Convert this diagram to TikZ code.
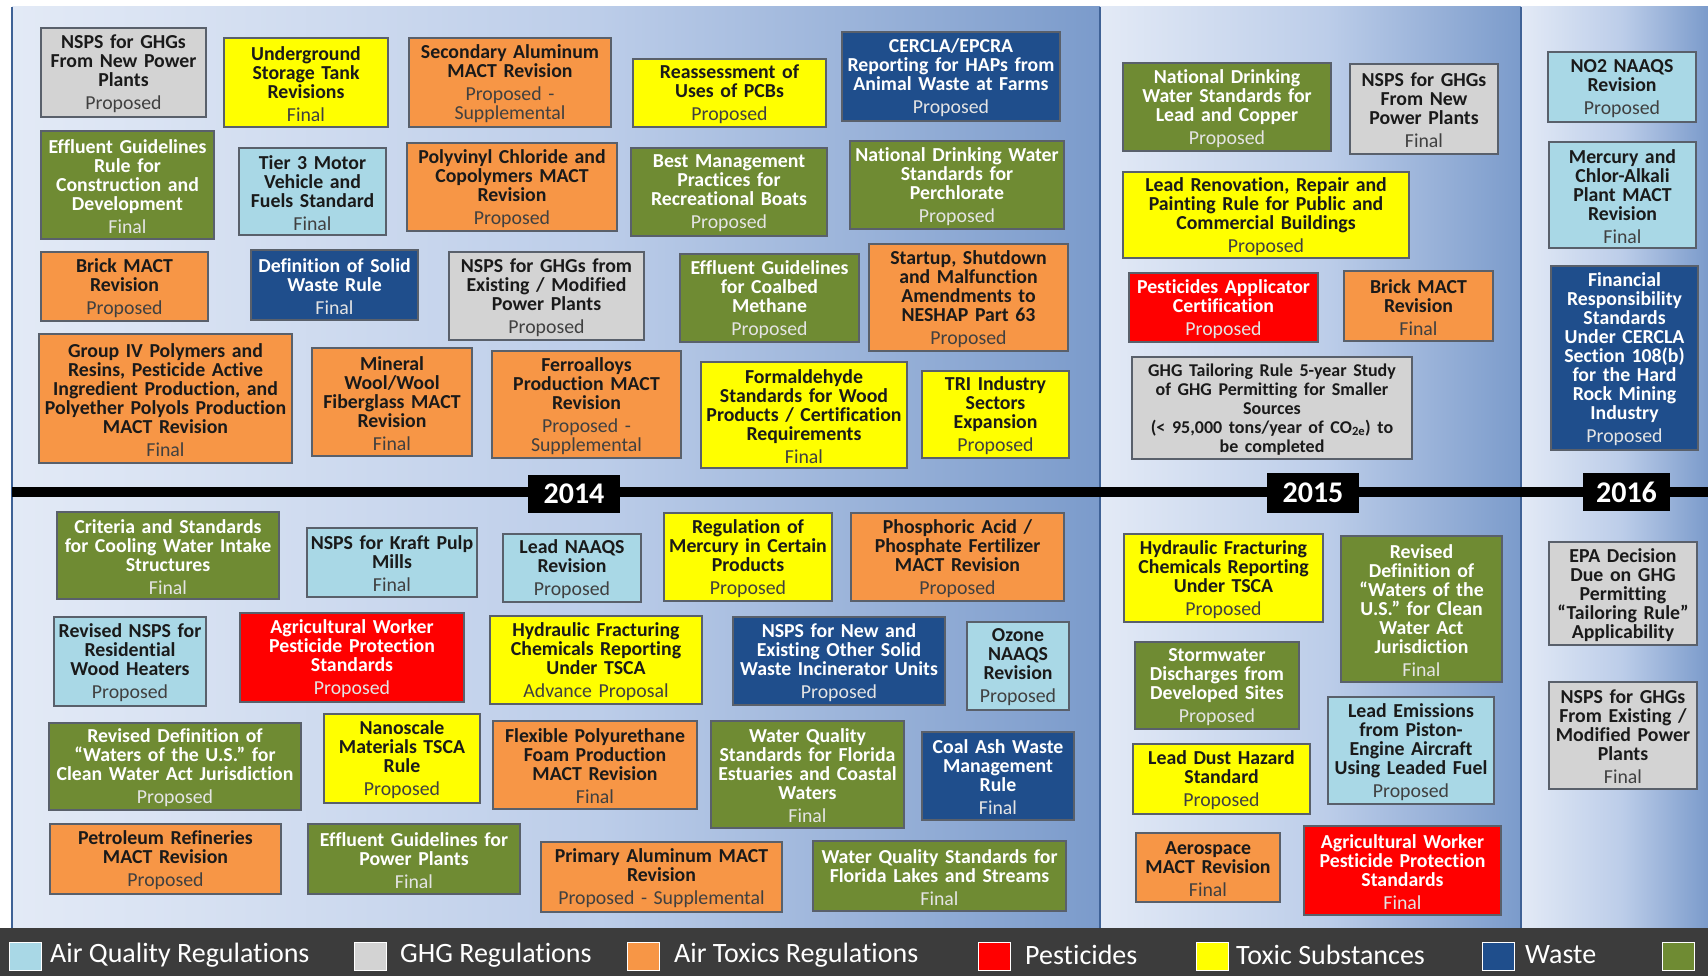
\documentclass[tikz,border=0pt]{standalone}
\usepackage{fontspec}
\setmainfont{Carlito}[Ligatures={TeX,NoCommon}]
\definecolor{aq}{HTML}{A9D8E6}
\definecolor{ghg}{HTML}{D3D3D3}
\definecolor{atx}{HTML}{F79646}
\definecolor{pst}{HTML}{FF0000}
\definecolor{tox}{HTML}{FFFF00}
\definecolor{wst}{HTML}{1F4E8C}
\definecolor{wat}{HTML}{6F8B33}
\definecolor{bord}{HTML}{59606B}
\definecolor{tdk}{HTML}{1A1A1A}
\definecolor{sdk}{HTML}{404040}
\definecolor{slt}{HTML}{E4E4E4}
\definecolor{pl}{HTML}{E3EAF6}
\definecolor{pm}{HTML}{BCCDE9}
\definecolor{pr}{HTML}{7B9BCB}
\definecolor{sepc}{HTML}{3F6296}
\definecolor{legc}{HTML}{3C3C3C}
\pgfdeclarehorizontalshading{panel}{100bp}{color(0bp)=(pl); color(25bp)=(pl); color(52bp)=(pm); color(75bp)=(pr); color(100bp)=(pr)}
\tikzset{
  rb/.style={draw=bord, line width=1.3pt, inner sep=0pt},
  rt/.style={inner sep=0pt, align=center, font=\fontsize{19.8}{19}\selectfont},
  yr/.style={fill=black, text=white, inner sep=0pt, font=\bfseries\fontsize{30}{30}\selectfont},
  sw/.style={draw=white, line width=1pt, minimum width=32pt, minimum height=28pt, inner sep=0pt},
  lg/.style={text=white, anchor=west, inner sep=0pt, font=\fontsize{28}{28}\selectfont}
}
\newcommand\mkbox[7]{%
  \pgfmathsetmacro\bw{#4-#2}\pgfmathsetmacro\bh{#5-#3}\pgfmathsetmacro\tw{#4-#2+40}%
  \pgfmathsetmacro\cx{(#2+#4)/2}\pgfmathsetmacro\cy{(#3+#5)/2}%
  \node[rb, fill=#6, minimum width=\bw pt, minimum height=\bh pt] (#1) at (\cx,\cy) {};
  \node[rt, text width=\tw pt, yshift=-1.5pt] (#1t) at (#1.center) {#7};}
\newcommand\lbox[8]{\mkbox{#1}{#2}{#3}{#4}{#5}{#6}{\color{tdk}\textbf{#7}\\[4pt]\color{sdk}#8}}
\newcommand\dbox[8]{\mkbox{#1}{#2}{#3}{#4}{#5}{#6}{\color{white}\textbf{#7}\\[4pt]\color{slt}#8}}
\begin{document}
\begin{tikzpicture}[x=1pt,y=-1pt]
\useasboundingbox (0,0) rectangle (1708,976);
\fill[white] (0,0) rectangle (1708,976);
\shade[shading=panel] (12,7) rectangle (1100,928);
\shade[shading=panel] (1100,7) rectangle (1521,928);
\shade[shading=panel] (1521,7) rectangle (1708,928);
\draw[sepc, line width=2.5pt] (12,7) -- (12,928);
\draw[sepc, line width=2.5pt] (1100,7) -- (1100,928);
\draw[sepc, line width=2.5pt] (1521,7) -- (1521,928);
\fill[black] (12,487) rectangle (1708,497);
\node[yr, minimum width=92pt, minimum height=38pt] (y14) at (574,494) {2014};
\node[yr, minimum width=92pt, minimum height=40pt] (y15) at (1313,493) {2015};
\node[yr, minimum width=87pt, minimum height=38pt] (y16) at (1626.5,492) {2016};
% ---- top 2014
\lbox{ghga}{41}{28}{206}{117}{ghg}{NSPS for GHGs\\From New Power\\Plants}{Proposed}
\lbox{ust}{224}{38}{388}{127}{tox}{Underground\\Storage Tank\\Revisions}{Final}
\lbox{secal}{409}{38}{611}{127}{atx}{Secondary Aluminum\\MACT Revision}{Proposed -\\Supplemental}
\lbox{pcb}{633}{59}{826}{127}{tox}{Reassessment of\\Uses of PCBs}{Proposed}
\dbox{cercla}{842}{32}{1060}{121}{wst}{CERCLA/EPCRA\\Reporting for HAPs from\\Animal Waste at Farms}{Proposed}
\dbox{effcon}{41}{131}{214}{239}{wat}{Effluent Guidelines\\Rule for\\Construction and\\Development}{Final}
\lbox{tier}{239}{148}{386}{235}{aq}{Tier 3 Motor\\Vehicle and\\Fuels Standard}{Final}
\lbox{pvc}{407}{143}{617}{231}{atx}{Polyvinyl Chloride and\\Copolymers MACT\\Revision}{Proposed}
\dbox{bmp}{631}{148}{827}{236}{wat}{Best Management\\Practices for\\Recreational Boats}{Proposed}
\dbox{perch}{850}{141}{1064}{229}{wat}{National Drinking Water\\Standards for\\Perchlorate}{Proposed}
\lbox{bricka}{41}{252}{208}{321}{atx}{Brick MACT\\Revision}{Proposed}
\dbox{dsw}{251}{250}{418}{320}{wst}{Definition of Solid\\Waste Rule}{Final}
\lbox{ghgb}{449}{252}{644}{340}{ghg}{NSPS for GHGs from\\Existing / Modified\\Power Plants}{Proposed}
\dbox{cbm}{680}{254}{859}{342}{wat}{Effluent Guidelines\\for Coalbed\\Methane}{Proposed}
\lbox{ssm}{869}{244}{1068}{351}{atx}{Startup, Shutdown\\and Malfunction\\Amendments to\\NESHAP Part 63}{Proposed}
\lbox{grp}{39}{334}{292}{463}{atx}{Group IV Polymers and\\Resins, Pesticide Active\\Ingredient Production, and\\Polyether Polyols Production\\MACT Revision}{Final}
\lbox{minw}{312}{348}{472}{456}{atx}{Mineral\\Wool/Wool\\Fiberglass MACT\\Revision}{Final}
\lbox{ferro}{492}{351}{681}{458}{atx}{Ferroalloys\\Production MACT\\Revision}{Proposed -\\Supplemental}
\lbox{form}{701}{362}{907}{468}{tox}{Formaldehyde\\Standards for Wood\\Products / Certification\\Requirements}{Final}
\lbox{tri}{922}{371}{1069}{458}{tox}{TRI Industry\\Sectors\\Expansion}{Proposed}
% ---- top 2015
\dbox{lcr}{1123}{63}{1331}{151}{wat}{National Drinking\\Water Standards for\\Lead and Copper}{Proposed}
\lbox{ghgc}{1350}{64}{1498}{154}{ghg}{NSPS for GHGs\\From New\\Power Plants}{Final}
\lbox{lrrp}{1123}{172}{1409}{258}{tox}{Lead Renovation, Repair and\\Painting Rule for Public and\\Commercial Buildings}{Proposed}
\dbox{pac}{1129}{273}{1318}{342}{pst}{Pesticides Applicator\\Certification}{Proposed}
\lbox{brickb}{1344}{271}{1493}{341}{atx}{Brick MACT\\Revision}{Final}
\mkbox{tail}{1132}{357}{1412}{459}{ghg}{\color{tdk}\bfseries\fontsize{18}{19}\selectfont GHG Tailoring Rule 5-year Study\\of GHG Permitting for Smaller\\Sources\\(< 95,000 tons/year of CO\textsubscript{2e}) to\\be completed}
% ---- top 2016
\lbox{notwo}{1548}{52}{1696}{122}{aq}{NO2 NAAQS\\Revision}{Proposed}
\lbox{chlor}{1549}{142}{1696}{248}{aq}{Mercury and\\Chlor-Alkali\\Plant MACT\\Revision}{Final}
\dbox{fin}{1551}{266}{1698}{450}{wst}{Financial\\Responsibility\\Standards\\Under CERCLA\\Section 108(b)\\for the Hard\\Rock Mining\\Industry}{Proposed}
% ---- bottom 2014
\dbox{cwis}{57}{512}{279}{599}{wat}{Criteria and Standards\\for Cooling Water Intake\\Structures}{Final}
\lbox{kraft}{307}{528}{477}{597}{aq}{NSPS for Kraft Pulp\\Mills}{Final}
\lbox{pbn}{503}{534}{641}{602}{aq}{Lead NAAQS\\Revision}{Proposed}
\lbox{hg}{664}{513}{832}{601}{tox}{Regulation of\\Mercury in Certain\\Products}{Proposed}
\lbox{phos}{851}{513}{1064}{601}{atx}{Phosphoric Acid /\\Phosphate Fertilizer\\MACT Revision}{Proposed}
\lbox{rwh}{54}{617}{206}{706}{aq}{Revised NSPS for\\Residential\\Wood Heaters}{Proposed}
\dbox{agwa}{240}{613}{464}{702}{pst}{Agricultural Worker\\Pesticide Protection\\Standards}{Proposed}
\lbox{hfa}{490}{616}{702}{704}{tox}{Hydraulic Fracturing\\Chemicals Reporting\\Under TSCA}{Advance Proposal}
\dbox{ciswi}{733}{617}{945}{705}{wst}{NSPS for New and\\Existing Other Solid\\Waste Incinerator Units}{Proposed}
\lbox{ozone}{967}{622}{1069}{710}{aq}{Ozone\\NAAQS\\Revision}{Proposed}
\dbox{wota}{49}{723}{301}{810}{wat}{Revised Definition of\\“Waters of the U.S.” for\\Clean Water Act Jurisdiction}{Proposed}
\lbox{nano}{324}{714}{480}{803}{tox}{Nanoscale\\Materials TSCA\\Rule}{Proposed}
\lbox{flex}{493}{721}{697}{809}{atx}{Flexible Polyurethane\\Foam Production\\MACT Revision}{Final}
\dbox{wqfe}{711}{721}{904}{828}{wat}{Water Quality\\Standards for Florida\\Estuaries and Coastal\\Waters}{Final}
\dbox{coal}{922}{732}{1074}{820}{wst}{Coal Ash Waste\\Management\\Rule}{Final}
\lbox{petro}{50}{824}{281}{894}{atx}{Petroleum Refineries\\MACT Revision}{Proposed}
\dbox{effpp}{308}{824}{520}{894}{wat}{Effluent Guidelines for\\Power Plants}{Final}
\lbox{primal}{541}{842}{782}{912}{atx}{Primary Aluminum MACT\\Revision}{Proposed -{} Supplemental}
\dbox{wqfl}{813}{841}{1066}{911}{wat}{Water Quality Standards for\\Florida Lakes and Streams}{Final}
% ---- bottom 2015
\lbox{hfb}{1124}{534}{1323}{622}{tox}{Hydraulic Fracturing\\Chemicals Reporting\\Under TSCA}{Proposed}
\dbox{wotb}{1341}{536}{1502}{682}{wat}{Revised\\Definition of\\“Waters of the\\U.S.” for Clean\\Water Act\\Jurisdiction}{Final}
\dbox{storm}{1135}{642}{1299}{729}{wat}{Stormwater\\Discharges from\\Developed Sites}{Proposed}
\lbox{pbair}{1328}{697}{1494}{804}{aq}{Lead Emissions\\from Piston-\\Engine Aircraft\\Using Leaded Fuel}{Proposed}
\lbox{pbdust}{1133}{744}{1310}{814}{tox}{Lead Dust Hazard\\Standard}{Proposed}
\lbox{aero}{1136}{833}{1280}{902}{atx}{Aerospace\\MACT Revision}{Final}
\dbox{agwb}{1304}{826}{1501}{915}{pst}{Agricultural Worker\\Pesticide Protection\\Standards}{Final}
% ---- bottom 2016
\mkbox{epa}{1549}{542}{1697}{645}{ghg}{\color{tdk}\bfseries EPA Decision\\Due on GHG\\Permitting\\“Tailoring Rule”\\Applicability}
\lbox{ghgd}{1549}{682}{1697}{789}{ghg}{NSPS for GHGs\\From Existing /\\Modified Power\\Plants}{Final}
% ---- legend
\fill[legc] (0,928) rectangle (1708,976);
\node[sw, fill=aq] (s1) at (25,956) {};
\node[lg] (l1) at (50,955) {Air Quality Regulations};
\node[sw, fill=ghg] (s2) at (370,956) {};
\node[lg] (l2) at (400,955) {GHG Regulations};
\node[sw, fill=atx] (s3) at (643,956) {};
\node[lg] (l3) at (674,955) {Air Toxics Regulations};
\node[sw, fill=pst] (s4) at (994,956) {};
\node[lg] (l4) at (1025,955) {Pesticides};
\node[sw, fill=tox] (s5) at (1212,956) {};
\node[lg] (l5) at (1236,955) {Toxic Substances};
\node[sw, fill=wst] (s6) at (1498,956) {};
\node[lg] (l6) at (1525,955) {Waste};
\node[sw, fill=wat] (s7) at (1678,956) {};
\end{tikzpicture}
\end{document}
